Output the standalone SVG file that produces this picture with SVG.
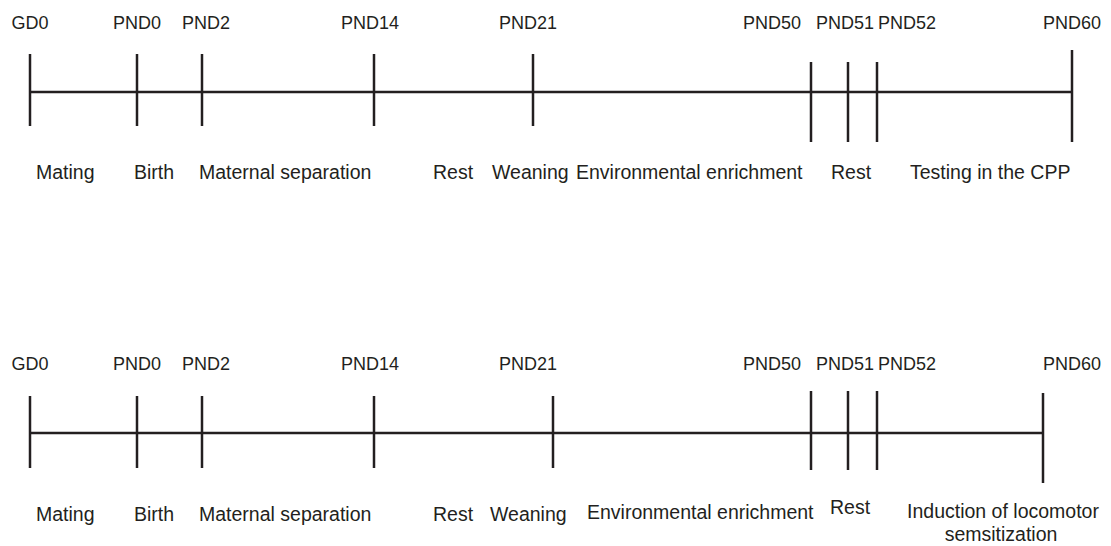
<svg xmlns="http://www.w3.org/2000/svg" width="1111" height="546" viewBox="0 0 1111 546">
<style>
.t{font-family:"Liberation Sans",Arial,sans-serif;font-size:18px;fill:#231f20}
.b{font-size:19.5px}
.m{text-anchor:middle}
.ln{stroke:#231f20;stroke-width:2.5;fill:none}
</style>
<rect width="1111" height="546" fill="#fff"/>
<g id="connectors">
<line class="ln" x1="30" y1="92" x2="1072" y2="92"/>
<line class="ln" x1="30" y1="54" x2="30" y2="126"/>
<line class="ln" x1="137" y1="54" x2="137" y2="126"/>
<line class="ln" x1="202" y1="54" x2="202" y2="126"/>
<line class="ln" x1="374" y1="54" x2="374" y2="126"/>
<line class="ln" x1="533" y1="54" x2="533" y2="126"/>
<line class="ln" x1="811" y1="62" x2="811" y2="142"/>
<line class="ln" x1="848" y1="62" x2="848" y2="142"/>
<line class="ln" x1="877" y1="62" x2="877" y2="142"/>
<line class="ln" x1="1072" y1="50" x2="1072" y2="142"/>
<line class="ln" x1="30" y1="433" x2="1043" y2="433"/>
<line class="ln" x1="30" y1="396" x2="30" y2="468"/>
<line class="ln" x1="137" y1="396" x2="137" y2="468"/>
<line class="ln" x1="202" y1="396" x2="202" y2="468"/>
<line class="ln" x1="374" y1="396" x2="374" y2="468"/>
<line class="ln" x1="553" y1="396" x2="553" y2="468"/>
<line class="ln" x1="811" y1="391" x2="811" y2="470"/>
<line class="ln" x1="848" y1="391" x2="848" y2="470"/>
<line class="ln" x1="877" y1="391" x2="877" y2="470"/>
<line class="ln" x1="1043" y1="393" x2="1043" y2="483"/>
</g>
<g id="top-labels">
<text class="t m" x="30" y="29">GD0</text>
<text class="t m" x="137" y="29">PND0</text>
<text class="t m" x="206" y="29">PND2</text>
<text class="t m" x="370" y="29">PND14</text>
<text class="t m" x="528" y="29">PND21</text>
<text class="t m" x="772" y="29">PND50</text>
<text class="t m" x="845" y="29">PND51</text>
<text class="t m" x="907" y="29">PND52</text>
<text class="t m" x="1072" y="29">PND60</text>
<text class="t b" x="36" y="179">Mating</text>
<text class="t b" x="134" y="179">Birth</text>
<text class="t b" x="199" y="179">Maternal separation</text>
<text class="t b" x="433" y="179">Rest</text>
<text class="t b" x="492" y="179">Weaning</text>
<text class="t b" x="576" y="179">Environmental enrichment</text>
<text class="t b" x="831" y="179">Rest</text>
<text class="t b" x="910" y="179">Testing in the CPP</text>
</g>
<g id="bottom-labels">
<text class="t m" x="30" y="370">GD0</text>
<text class="t m" x="137" y="370">PND0</text>
<text class="t m" x="206" y="370">PND2</text>
<text class="t m" x="370" y="370">PND14</text>
<text class="t m" x="528" y="370">PND21</text>
<text class="t m" x="772" y="370">PND50</text>
<text class="t m" x="845" y="370">PND51</text>
<text class="t m" x="907" y="370">PND52</text>
<text class="t m" x="1072" y="370">PND60</text>
<text class="t b" x="36" y="521">Mating</text>
<text class="t b" x="134" y="521">Birth</text>
<text class="t b" x="199" y="521">Maternal separation</text>
<text class="t b" x="433" y="521">Rest</text>
<text class="t b" x="490" y="521">Weaning</text>
<text class="t b" x="587" y="519">Environmental enrichment</text>
<text class="t b" x="830" y="514">Rest</text>
<text class="t b m" x="1003" y="518">Induction of locomotor</text>
<text class="t b m" x="1001" y="541">semsitization</text>
</g>
</svg>
